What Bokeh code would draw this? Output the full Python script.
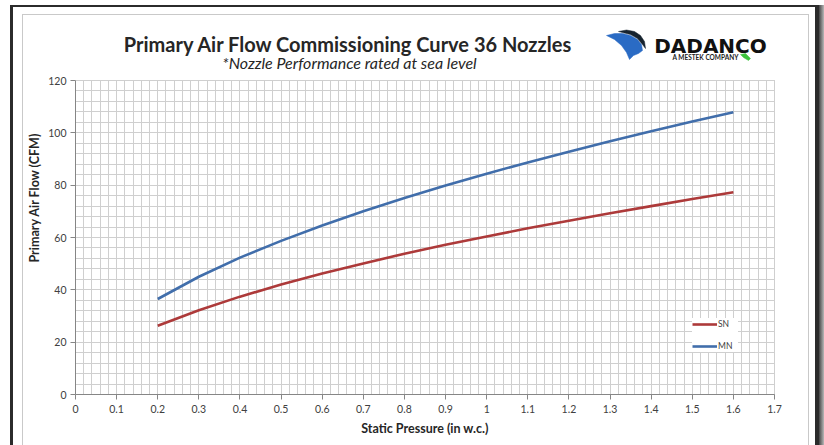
from bokeh.plotting import figure
from bokeh.models import Range1d, FixedTicker, Label, Legend, LegendItem, Grid
from bokeh.embed import file_html
from bokeh.resources import INLINE

# ---- data ----
pressure = [0.2, 0.3, 0.4, 0.5, 0.6, 0.7, 0.8, 0.9, 1.0, 1.1, 1.2, 1.3, 1.4, 1.5, 1.6]
sn_flow = [26.3, 32.2, 37.4, 42.0, 46.2, 50.1, 53.8, 57.2, 60.4, 63.5, 66.4, 69.3, 72.0, 74.7, 77.3]
mn_flow = [36.5, 45.0, 52.3, 58.7, 64.6, 70.0, 75.1, 79.9, 84.4, 88.7, 92.8, 96.8, 100.6, 104.3, 107.9]
series_names = ["SN", "MN"]
x_ticks = [0, 0.1, 0.2, 0.3, 0.4, 0.5, 0.6, 0.7, 0.8, 0.9, 1.0, 1.1, 1.2, 1.3, 1.4, 1.5, 1.6, 1.7]
x_tick_labels = ["0", "0.1", "0.2", "0.3", "0.4", "0.5", "0.6", "0.7", "0.8", "0.9", "1",
                 "1.1", "1.2", "1.3", "1.4", "1.5", "1.6", "1.7"]
y_ticks = [0, 20, 40, 60, 80, 100, 120]
title_text = "Primary Air Flow Commissioning Curve 36 Nozzles"
subtitle_text = "*Nozzle Performance rated at sea level"
x_label = "Static Pressure (in w.c.)"
y_label = "Primary Air Flow (CFM)"
logo_name = "DADANCO"
logo_tag = "A MESTEK COMPANY"

RED = "#AD3A3A"
BLUE = "#416EAB"
GRID = "#cfcfcf"

W, H = 824, 445
PL, PR, PT, PB = 75, 774, 80, 394      # plot area (axes box) in canvas px
XMIN, XMAX, YMIN, YMAX = 0, 1.7, 0, 120

def X(px):
    return (px - PL) / (PR - PL) * (XMAX - XMIN) + XMIN

def Y(py):
    return (PB - py) / (PB - PT) * (YMAX - YMIN) + YMIN

# frame extends up to the canvas top so the heading area can hold glyphs
p = figure(width=W, height=H, output_backend="svg", toolbar_location=None,
           x_range=Range1d(XMIN, XMAX), y_range=Range1d(YMIN, Y(0)),
           min_border_left=PL, min_border_right=W - PR, min_border_top=0,
           min_border_bottom=H - PB)
p.background_fill_alpha = 0
p.border_fill_alpha = 0
p.outline_line_color = None

# page / window decoration painted behind the transparent canvas
css_layers = [
    "linear-gradient(#2b2b2b,#2b2b2b) 10px 5px / 809px 2px no-repeat",
    "linear-gradient(#2b2b2b,#2b2b2b) 10px 5px / 3px 440px no-repeat",
    "linear-gradient(#2b2b2b,#2b2b2b) 815px 5px / 4px 440px no-repeat",
    "linear-gradient(to right,#454545,#b8b8b8) 819px 5px / 5px 440px no-repeat",
    "linear-gradient(#c9c9c9,#c9c9c9) 22px 14px / 1px 431px no-repeat",
    "linear-gradient(#c9c9c9,#c9c9c9) 22px 14px / 787px 1px no-repeat",
    "linear-gradient(#c9c9c9,#c9c9c9) 808px 14px / 1px 431px no-repeat",
    "linear-gradient(%s,%s) 774px 80px / 1px 315px no-repeat" % (GRID, GRID),
    "#ffffff",
]
p.styles = {"background": ", ".join(css_layers)}

# grid: lines every 0.02 / 4 inside the axes box only
p.xgrid.ticker = FixedTicker(ticks=[round(i * 0.02, 2) for i in range(86)])
p.ygrid.ticker = FixedTicker(ticks=[i * 4 for i in range(31)])
p.xgrid.grid_line_color = GRID
p.ygrid.grid_line_color = GRID
if "cross_bounds" in Grid.properties():
    p.xgrid.cross_bounds = (YMIN, YMAX)
else:
    p.xgrid.visible = False
    gx = [round(i * 0.02, 2) for i in range(86)]
    p.segment(x0=gx, y0=[YMIN] * len(gx), x1=gx, y1=[YMAX] * len(gx),
              line_color=GRID, line_width=1, level="underlay")

# axes
p.xaxis.ticker = FixedTicker(ticks=x_ticks)
p.xaxis.major_label_overrides = {t: l for t, l in zip(x_ticks, x_tick_labels)}
p.yaxis.ticker = FixedTicker(ticks=y_ticks)
p.yaxis.bounds = (YMIN, YMAX)
p.xaxis.bounds = (XMIN, XMAX)
for ax in (p.xaxis[0], p.yaxis[0]):
    ax.axis_line_color = "#868686"
    ax.major_tick_line_color = "#868686"
    ax.major_tick_out = 5
    ax.major_tick_in = 0
    ax.minor_tick_line_color = None
    ax.major_label_text_font = "Lato"
    ax.major_label_text_font_size = "10.5px"
    ax.major_label_text_color = "#404040"
    ax.axis_label_text_font = "Lato"
    ax.axis_label_text_font_style = "bold"
    ax.axis_label_text_font_size = "12.5px"
    ax.axis_label_text_color = "#262626"
p.xaxis.axis_label = x_label
p.yaxis.axis_label = y_label
p.xaxis.major_label_standoff = 5
p.xaxis.axis_label_standoff = 5
p.yaxis.major_label_standoff = 4
p.yaxis.axis_label_standoff = 3

# series
r_sn = p.line(pressure, sn_flow, line_color=RED, line_width=2.6)
r_mn = p.line(pressure, mn_flow, line_color=BLUE, line_width=2.6)

legend = Legend(items=[LegendItem(label=series_names[0], renderers=[r_sn]),
                       LegendItem(label=series_names[1], renderers=[r_mn])],
                location=(617, 42), orientation="vertical")
legend.background_fill_color = "white"
legend.background_fill_alpha = 1
legend.border_line_color = None
legend.label_text_font = "Lato"
legend.label_text_font_size = "8.5px"
legend.label_text_color = "#404040"
legend.glyph_width = 25
legend.glyph_height = 12
legend.label_height = 12
legend.label_standoff = 1
legend.spacing = 10
legend.padding = 5
legend.margin = 0
p.add_layout(legend, "center")

# headings
p.add_layout(Label(x=X(348), y=Y(43), text=title_text, text_align="center",
                   text_baseline="middle", text_font="Lato", text_font_style="bold",
                   text_font_size="20px", text_color="#262626"))
p.add_layout(Label(x=X(349), y=Y(62), text=subtitle_text, text_align="center",
                   text_baseline="middle", text_font="Lato", text_font_style="italic",
                   text_font_size="16px", text_color="#262626"))

# logo
p.patch([X(v) for v in [606, 614, 622, 630, 637, 641, 642, 638, 633, 629, 626, 621, 614]],
        [Y(v) for v in [35, 33, 33, 35, 39, 44, 50, 53, 55, 59, 52, 45, 39]],
        fill_color="#2a6bc4", line_color="#2a6bc4", line_width=0.5)
p.patch([X(v) for v in [618, 626, 634, 640, 644, 645, 642, 637, 630, 622]],
        [Y(v) for v in [31, 29.5, 31, 35, 41, 48, 44, 38, 34, 32]],
        fill_color="#16232e", line_color="#16232e", line_width=0.5)
p.patch([X(v) for v in [740, 745, 750, 748, 743]],
        [Y(v) for v in [54, 53, 58, 60, 57]],
        fill_color="#3cc33c", line_color="#3cc33c", line_width=0.5)
p.add_layout(Label(x=X(710), y=Y(45), text=logo_name, text_align="center",
                   text_baseline="middle", text_font="DejaVu Sans", text_font_style="bold",
                   text_font_size="20px", text_color="#111111"))
p.add_layout(Label(x=X(705), y=Y(57), text=logo_tag, text_align="center",
                   text_baseline="middle", text_font="Lato",
                   text_font_style="bold", text_font_size="6.5px", text_color="#222222"))

open("out.html", "w").write(file_html(p, INLINE))
